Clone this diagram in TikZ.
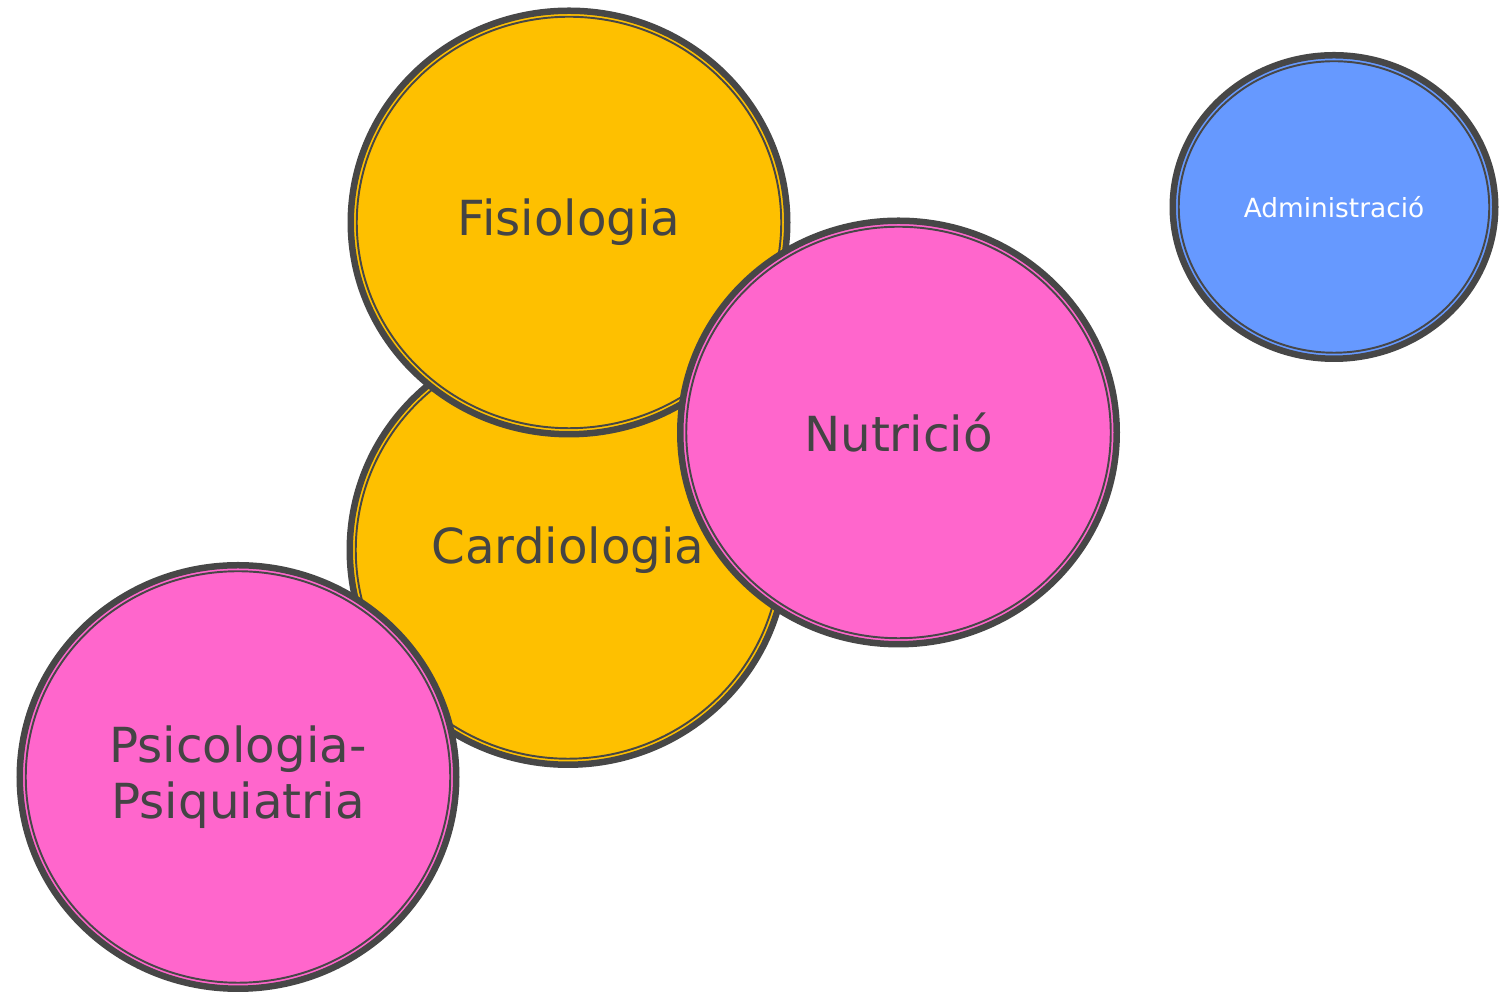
\documentclass[tikz,border=0pt]{standalone}
\usepackage{fontspec}
\setmainfont{DejaVu Sans}
\usetikzlibrary{shapes.geometric,positioning}
\definecolor{edgegray}{HTML}{474747}
\definecolor{textgray}{HTML}{444444}
\definecolor{gold}{HTML}{FEC000}
\definecolor{rosa}{HTML}{FF66CC}
\definecolor{blau}{HTML}{6699FF}
\tikzset{
bubble/.style= {ellipse, draw=edgegray, line width=1.3mm, fill=#1, text=textgray, align=center, inner sep=0pt, font=\fontsize{27.5}{32}\selectfont},
ring/.style= {ellipse, draw=edgegray, line width=1.1pt, inner sep=0pt},
big/.style= {minimum width=8.73cm, minimum height=8.47cm},
bigring/.style= {minimum width=8.49cm, minimum height=8.23cm}
}

\begin{document}
\begin{tikzpicture}
\useasboundingbox (0,0) rectangle (29.98,19.84);

% the yellow pair, the lower one first
\node[bubble=gold, big, minimum height=8.59cm] (cardio) at (11.36,8.84) {Cardiologia};
\node[ring, bigring, minimum height=8.35cm] (cardior) at (cardio.center) {};

\node[bubble=gold, big] (fisio) at (11.38,15.39) {Fisiologia};
\node[ring, bigring] (fisior) at (fisio.center) {};

% pink ones on top
\node[bubble=rosa, big] (psico) at (4.76,4.30) {Psicologia-\\Psiquiatria};
\node[ring, bigring] (psicor) at (psico.center) {};

\node[bubble=rosa, big] (nutri) at (17.97,11.19) {Nutrició};
\node[ring, bigring] (nutrir) at (nutri.center) {};

% the small one on its own
\node[bubble=blau, minimum width=6.45cm, minimum height=6.07cm, text=white, font=\fontsize{15}{18}\selectfont] (admin) at (26.68,15.70) {Administració};
\node[ring, minimum width=6.21cm, minimum height=5.83cm] (adminr) at (admin.center) {};

\end{tikzpicture}
\end{document}
